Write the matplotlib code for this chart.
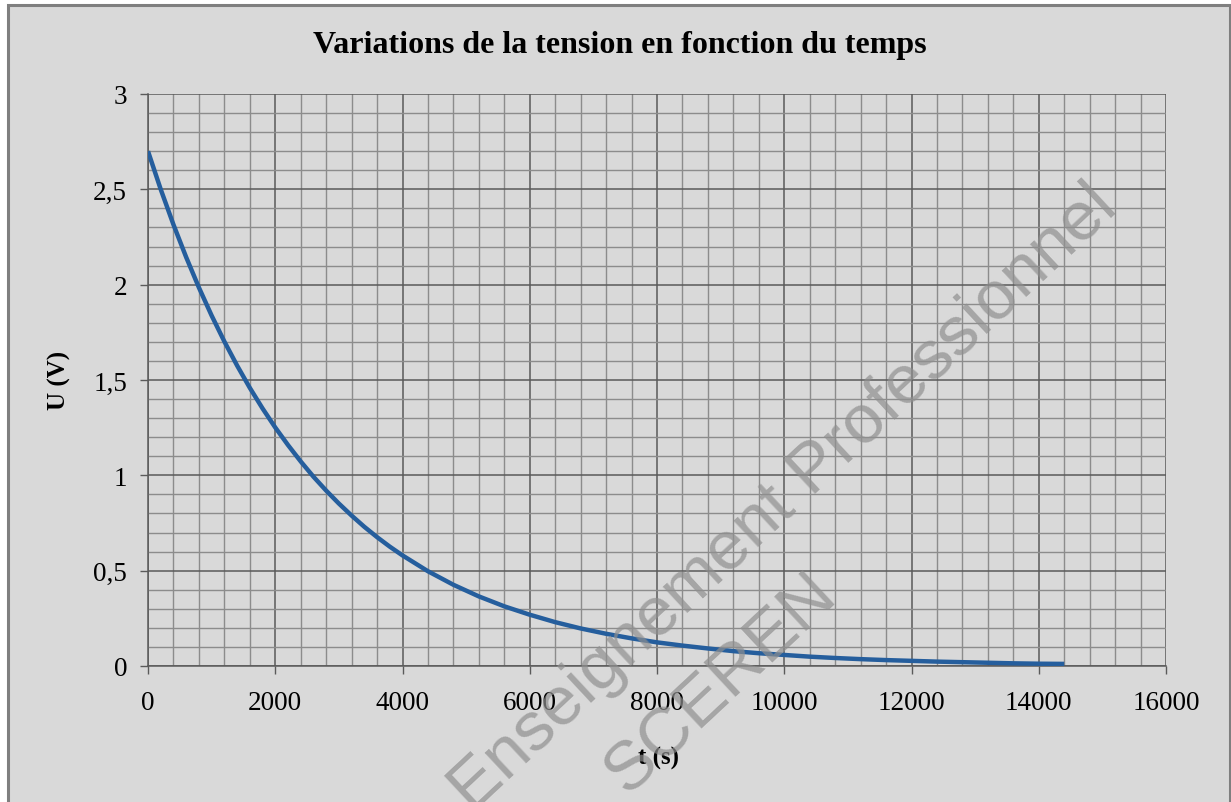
import matplotlib
matplotlib.use("Agg")
import matplotlib.pyplot as plt
from matplotlib.patches import Rectangle
from matplotlib.ticker import MultipleLocator

# data (t in s, U in V)
t = [0, 200, 400, 600, 800, 1000, 1200, 1400, 1600, 1800, 2000, 2200, 2400,
     2600, 2800, 3000, 3200, 3400, 3600, 3800, 4000, 4400, 4800,
     5200, 5600, 6000, 6400, 6800, 7200, 7600, 8000, 8400, 8800, 9200, 9600,
     10000, 10400, 10800, 11200, 11600, 12000, 12400, 12800, 13200, 13600,
     14000, 14400]
u = [2.70, 2.500, 2.315, 2.144, 1.985, 1.838, 1.702, 1.576, 1.459, 1.351,
     1.251, 1.159, 1.073, 0.993, 0.920, 0.852, 0.789, 0.730, 0.676, 0.626,
     0.580, 0.497, 0.426, 0.365, 0.313, 0.269, 0.230, 0.197, 0.169, 0.145,
     0.124, 0.107, 0.092, 0.078, 0.067, 0.058, 0.049, 0.042, 0.036, 0.031,
     0.027, 0.023, 0.020, 0.017, 0.014, 0.012, 0.011]

x_ticks = [0, 2000, 4000, 6000, 8000, 10000, 12000, 14000, 16000]
x_labels = ['0', '2000', '4000', '6000', '8000', '10000', '12000', '14000', '16000']
y_ticks = [0, 0.5, 1, 1.5, 2, 2.5, 3]
y_labels = ['0', '0,5', '1', '1,5', '2', '2,5', '3']

W, H = 1231, 803
fig = plt.figure(figsize=(W / 100, H / 100), dpi=100)
fig.patch.set_facecolor('white')

# chart area frame
frame = Rectangle((8 / W, -0.05), (1229.5 - 8) / W, 1.05 - 6 / H,
                  transform=fig.transFigure, facecolor='#d9d9d9',
                  edgecolor='#7f7f7f', linewidth=2.2, zorder=0)
fig.patches.append(frame)

ax = fig.add_axes([148 / W, 1 - 667 / H, (1166 - 148) / W, (667 - 95) / H])
ax.set_zorder(2)
ax.set_facecolor('#d9d9d9')
ax.set_xlim(0, 16000)
ax.set_ylim(0, 3)

ax.xaxis.set_major_locator(MultipleLocator(2000))
ax.xaxis.set_minor_locator(MultipleLocator(400))
ax.yaxis.set_major_locator(MultipleLocator(0.5))
ax.yaxis.set_minor_locator(MultipleLocator(0.1))
ax.grid(which='minor', color='#8c8c8c', linewidth=1.0)
ax.grid(which='major', color='#5a5a5a', linewidth=1.1)
ax.set_axisbelow(True)

ax.set_xticks(x_ticks)
ax.set_xticklabels(x_labels)
ax.set_yticks(y_ticks)
ax.set_yticklabels(y_labels)
ax.tick_params(which='major', direction='out', length=6, width=1, color='#5a5a5a',
               labelsize=19.5, pad=11)
ax.tick_params(axis='y', pad=9)
ax.tick_params(which='minor', length=0)
for lab in ax.get_xticklabels() + ax.get_yticklabels():
    lab.set_family('Liberation Serif')

for s in ['top', 'right']:
    ax.spines[s].set_visible(False)
for s in ['left', 'bottom']:
    ax.spines[s].set_color('#5a5a5a')
    ax.spines[s].set_linewidth(1.1)

ax.plot(t, u, color='#255e9d', linewidth=3.2, solid_capstyle='butt',
        solid_joinstyle='round', zorder=3)

fig.text(620 / W, 1 - 45 / H, 'Variations de la tension en fonction du temps',
         ha='center', va='center', fontsize=23, fontweight='bold',
         family='Liberation Serif')
fig.text(59 / W, 1 - 380 / H, 'U (V)', ha='center', va='center', rotation=90,
         fontsize=18, fontweight='bold', family='Liberation Serif')
fig.text(658 / W, 1 - 758 / H, 't (s)', ha='center', va='center',
         fontsize=18, fontweight='bold', family='Liberation Serif')

# watermark
fig.text(1120 / W, 1 - 210 / H, 'Enseignement Professionnel', ha='right',
         va='baseline', rotation=43, rotation_mode='anchor', fontsize=50,
         family='Liberation Sans', color='#8f8f8f', alpha=0.7, zorder=5)
fig.text(840 / W, 1 - 598 / H, 'SCEREN', ha='right',
         va='baseline', rotation=43, rotation_mode='anchor', fontsize=50,
         family='Liberation Sans', color='#8f8f8f', alpha=0.7, zorder=5)

fig.savefig('out.png', dpi=100)
